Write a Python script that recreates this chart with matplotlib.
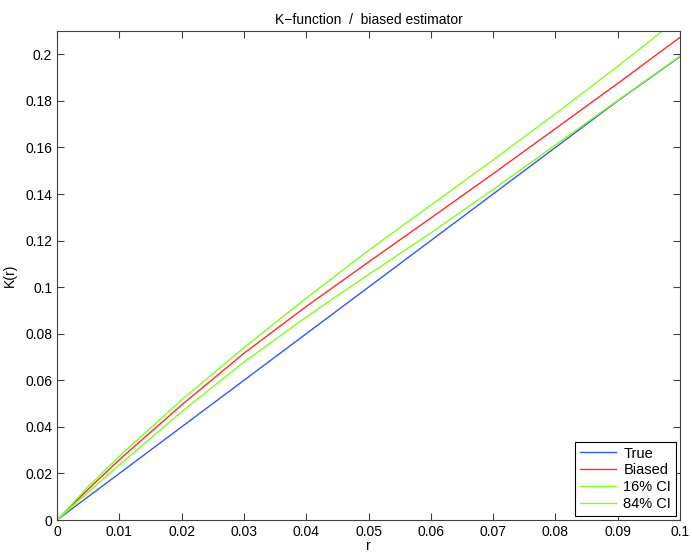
import matplotlib
matplotlib.use("Agg")
import matplotlib.pyplot as plt

r = [0, 0.005, 0.01, 0.02, 0.03, 0.04, 0.05, 0.06, 0.07, 0.08, 0.09, 0.1]
k_true = [0, 0.01, 0.02, 0.04, 0.06, 0.08, 0.10, 0.12, 0.14, 0.16, 0.18, 0.199]
k_biased = [0, 0.0132, 0.0259, 0.0494, 0.0716, 0.0917, 0.1108, 0.1297,
            0.1487, 0.1681, 0.1875, 0.2073]
ci16 = [0, 0.0119, 0.0237, 0.0465, 0.0678, 0.0872, 0.1054, 0.1233,
        0.1420, 0.1611, 0.1802, 0.1992]
ci84 = [0, 0.0143, 0.0274, 0.0516, 0.0740, 0.0953, 0.1158, 0.1352,
        0.1546, 0.1745, 0.1948, 0.2160]

xticks = [0, 0.01, 0.02, 0.03, 0.04, 0.05, 0.06, 0.07, 0.08, 0.09, 0.1]
yticks = [0, 0.02, 0.04, 0.06, 0.08, 0.1, 0.12, 0.14, 0.16, 0.18, 0.2]

plt.rcParams['font.family'] = ['Liberation Sans', 'DejaVu Sans']
plt.rcParams['font.size'] = 10

fig = plt.figure(figsize=(6.92, 5.6), dpi=100)
ax = fig.add_axes([0.0824, 0.0714, 0.9003, 0.8732])

ax.plot(r, k_true, color='#3355ff', lw=1.0, label='True')
ax.plot(r, k_biased, color='#ff2a2a', lw=1.0, label='Biased')
ax.plot(r, ci16, color='#7fff1a', lw=1.0, label='16% CI')
ax.plot(r, ci84, color='#7fff1a', lw=1.0, label='84% CI')

ax.set_xlim(0, 0.1)
ax.set_ylim(0, 0.21)
ax.set_xticks(xticks)
ax.set_xticklabels([f'{v:g}' for v in xticks])
ax.set_yticks(yticks)
ax.set_yticklabels([f'{v:g}' for v in yticks])
ax.tick_params(direction='in', top=True, right=True, length=5, color='#404040')
for s in ax.spines.values():
    s.set_color('#404040')

ax.set_xlabel('r', labelpad=0)
ax.set_ylabel('K(r)', labelpad=6)
ax.set_title('K\u2212function  /  biased estimator', fontsize=10, pad=5)

leg = ax.legend(loc='lower right', fancybox=False, framealpha=1,
                edgecolor='black', borderaxespad=0.3, handlelength=2.5,
                labelspacing=0.2, borderpad=0.3, fontsize=10.5,
                handletextpad=0.5)
leg.get_frame().set_linewidth(0.8)

fig.savefig('out.png', dpi=100)
